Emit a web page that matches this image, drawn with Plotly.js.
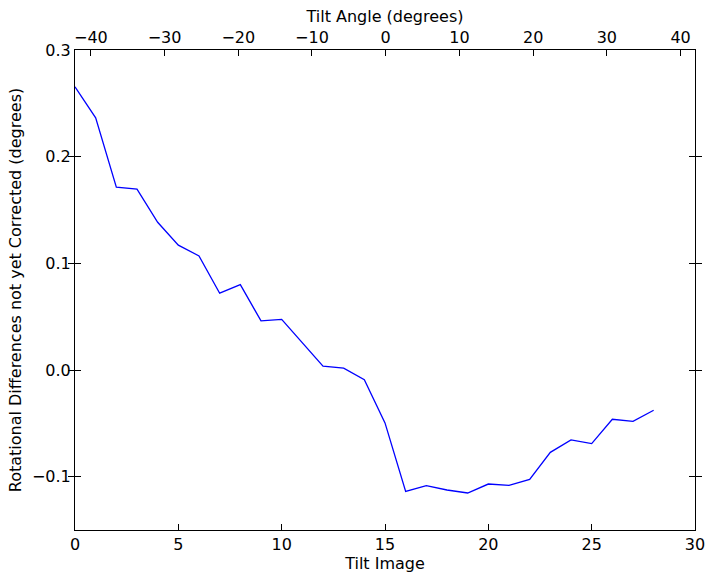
<!DOCTYPE html>
<html>
<head>
<meta charset="utf-8">
<script src="https://cdn.plot.ly/plotly-3.0.1.min.js"></script>
<style>html,body{margin:0;padding:0;background:#fff;}#chart{width:714px;height:579px;}</style>
</head>
<body>
<div id="chart"></div>
<script>
// Tilt image index
const tiltImage = [0,1,2,3,4,5,6,7,8,9,10,11,12,13,14,15,16,17,18,19,20,21,22,23,24,25,26,27,28];
// Rotational differences not yet corrected (degrees)
const rotDiff = [0.2655,0.2364,0.1714,0.1695,0.1385,0.117,0.107,0.072,0.080,0.046,0.0475,0.0258,0.0036,0.0017,-0.009,
  -0.0496,-0.1138,-0.1085,-0.1125,-0.1153,-0.1069,-0.1082,-0.1025,-0.0772,-0.0656,-0.069,-0.0462,-0.0481,-0.0377];
const xRange = [0, 30];
const yRange = [-0.15, 0.3];
const angleRange = [-42.15, 41.96];
const font = {family: 'DejaVu Sans', size: 16, color: '#000'};

Plotly.newPlot('chart', [{
  x: tiltImage, y: rotDiff, type: 'scatter', mode: 'lines',
  line: {color: '#0000ff', width: 1.3}, showlegend: false, hoverinfo: 'skip'
}, {
  x: [], y: [], xaxis: 'x2', yaxis: 'y', type: 'scatter', mode: 'lines',
  showlegend: false, hoverinfo: 'skip'
}], {
  width: 714, height: 579,
  margin: {l: 75, r: 19, t: 50, b: 49},
  paper_bgcolor: '#fff', plot_bgcolor: '#fff',
  font: font,
  xaxis: {
    range: xRange, dtick: 5, tick0: 0, showgrid: false, zeroline: false,
    ticks: 'inside', ticklen: 6, tickcolor: '#000', showline: true, linecolor: '#000', linewidth: 1, mirror: true,
    tickfont: font, title: {text: 'Tilt Image', font: font, standoff: 0}
  },
  xaxis2: {
    range: angleRange, autorange: false, dtick: 10, tick0: 0, overlaying: 'x', side: 'top', anchor: 'y',
    showgrid: false, zeroline: false, ticks: 'inside', ticklen: 6, tickcolor: '#000',
    showline: true, linecolor: '#000', linewidth: 1,
    tickfont: font, title: {text: 'Tilt Angle (degrees)', font: font, standoff: 0}
  },
  yaxis: {
    range: yRange, dtick: 0.1, tick0: 0, tickformat: '.1f', showgrid: false, zeroline: false,
    ticks: 'inside', ticklen: 6, tickcolor: '#000', showline: true, linecolor: '#000', linewidth: 1, mirror: 'allticks',
    tickfont: font, title: {text: 'Rotational Differences not yet Corrected (degrees)', font: font, standoff: 6}
  }
}, {staticPlot: true});
</script>
</body>
</html>
